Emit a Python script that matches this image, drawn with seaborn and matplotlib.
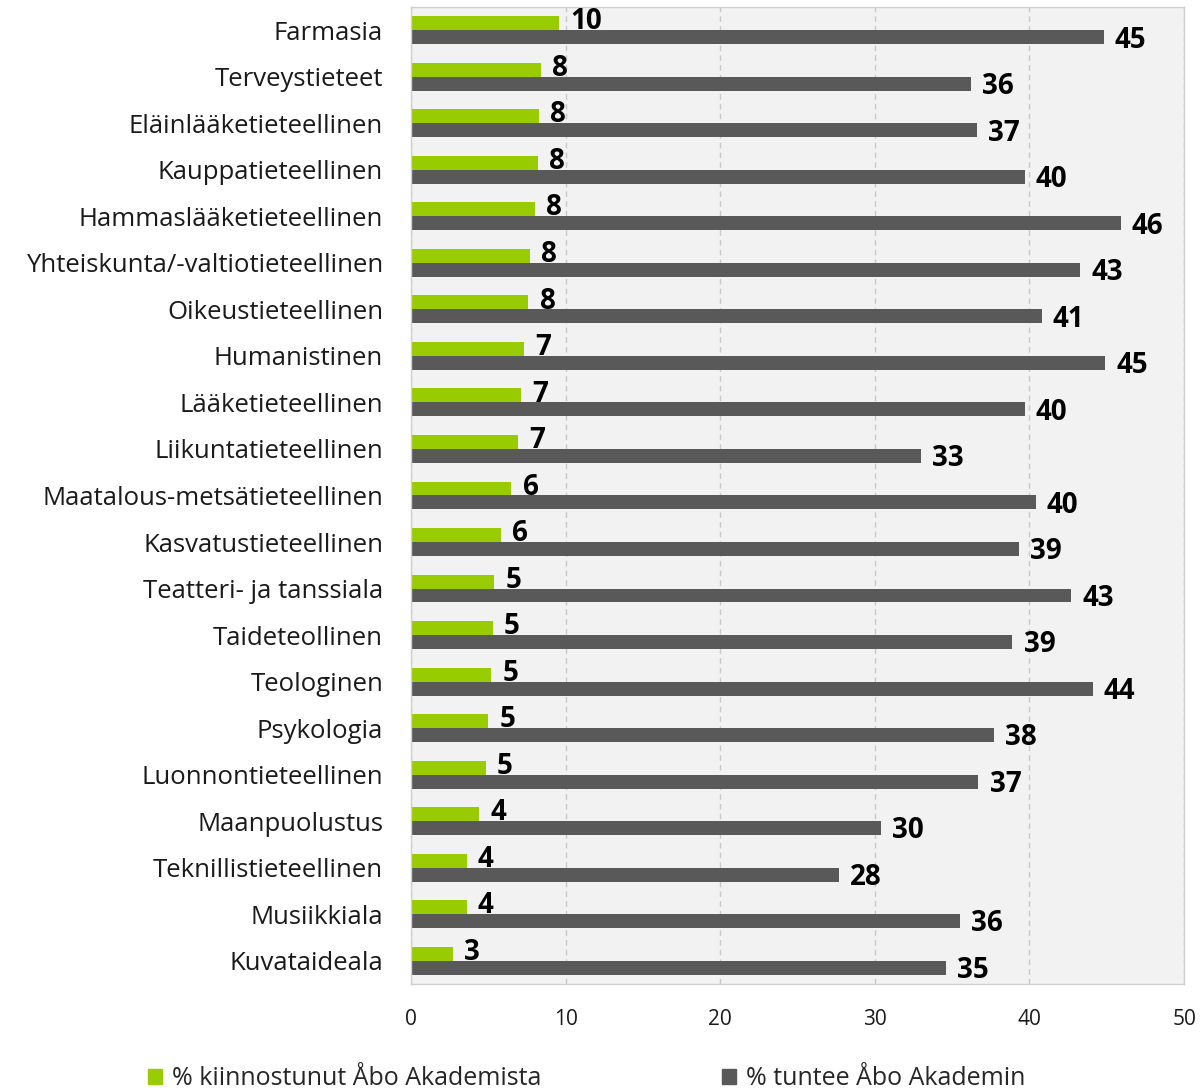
import pandas as pd
import matplotlib.pyplot as plt
import matplotlib.patches as mpatches
import seaborn as sns

# ==================================================
# DATA
# ==================================================

categories = [
    "Farmasia", "Terveystieteet", "Eläinlääketieteellinen",
    "Kauppatieteellinen", "Hammaslääketieteellinen",
    "Yhteiskunta/-valtiotieteellinen", "Oikeustieteellinen",
    "Humanistinen", "Lääketieteellinen", "Liikuntatieteellinen",
    "Maatalous-metsätieteellinen", "Kasvatustieteellinen",
    "Teatteri- ja tanssiala", "Taideteollinen", "Teologinen",
    "Psykologia", "Luonnontieteellinen", "Maanpuolustus",
    "Teknillistieteellinen", "Musiikkiala", "Kuvataideala",
]

interested = [9.6, 8.4, 8.3, 8.2, 8.0, 7.7, 7.6, 7.3, 7.1, 6.9, 6.5,
              5.8, 5.4, 5.3, 5.2, 5.0, 4.85, 4.4, 3.6, 3.6, 2.7]

knows = [44.8, 36.2, 36.6, 39.7, 45.9, 43.3, 40.8, 44.9, 39.7, 33.0, 40.4,
         39.3, 42.7, 38.9, 44.1, 37.7, 36.7, 30.4, 27.7, 35.5, 34.6]

series_names = ["% kiinnostunut Åbo Akademista", "% tuntee Åbo Akademin"]
colors = ["#99cc00", "#595959"]

df = pd.DataFrame({
    "category": categories * 2,
    "value": interested + knows,
    "series": [series_names[0]] * len(categories) + [series_names[1]] * len(categories),
})

# ==================================================
# PLOT
# ==================================================

sns.set_style("white")
plt.rcParams["font.family"] = ["Open Sans", "DejaVu Sans"]

fig = plt.figure(figsize=(12.01, 10.91), dpi=100)
ax = fig.add_axes([0.3422, 0.0981, 0.6437, 0.8955])
ax.set_facecolor("#f2f2f2")

sns.barplot(
    data=df,
    x="value",
    y="category",
    hue="series",
    palette=colors,
    orient="h",
    width=0.6,
    saturation=1,
    linewidth=0,
    legend=False,
    ax=ax,
)

for i, cont in enumerate(ax.containers):
    anns = ax.bar_label(cont, fmt="%.0f", padding=8, fontsize=20,
                        fontweight="bold", color="black")
    for a in anns:
        a.xyann = (8, 1 if i == 0 else -2)

ax.set_xlim(0, 50)
ax.set_ylim(len(categories) - 0.5, -0.5)
ax.set_xticks([0, 10, 20, 30, 40, 50])
ax.xaxis.grid(True, linestyle=(0, (4, 3)), color="#c8c8c8", linewidth=1)
ax.set_axisbelow(True)
ax.set_xlabel("")
ax.set_ylabel("")
ax.tick_params(axis="y", labelsize=18.5, length=0, pad=20, labelcolor="#1a1a1a")
ax.tick_params(axis="x", labelsize=15, length=0, pad=18, labelcolor="#1a1a1a")

for s in ax.spines.values():
    s.set_color("#d0d0d0")
    s.set_linewidth(1)

handles = [mpatches.Patch(color=c, label=n) for c, n in zip(colors, series_names)]
fig.legend(
    handles=handles,
    loc="center",
    bbox_to_anchor=(0.4884, 0.011),
    ncol=2,
    frameon=False,
    fontsize=18,
    handlelength=0.56,
    handleheight=0.56,
    handletextpad=0.4,
    columnspacing=7.2,
)

plt.savefig("out.png", dpi=100)
plt.close()
